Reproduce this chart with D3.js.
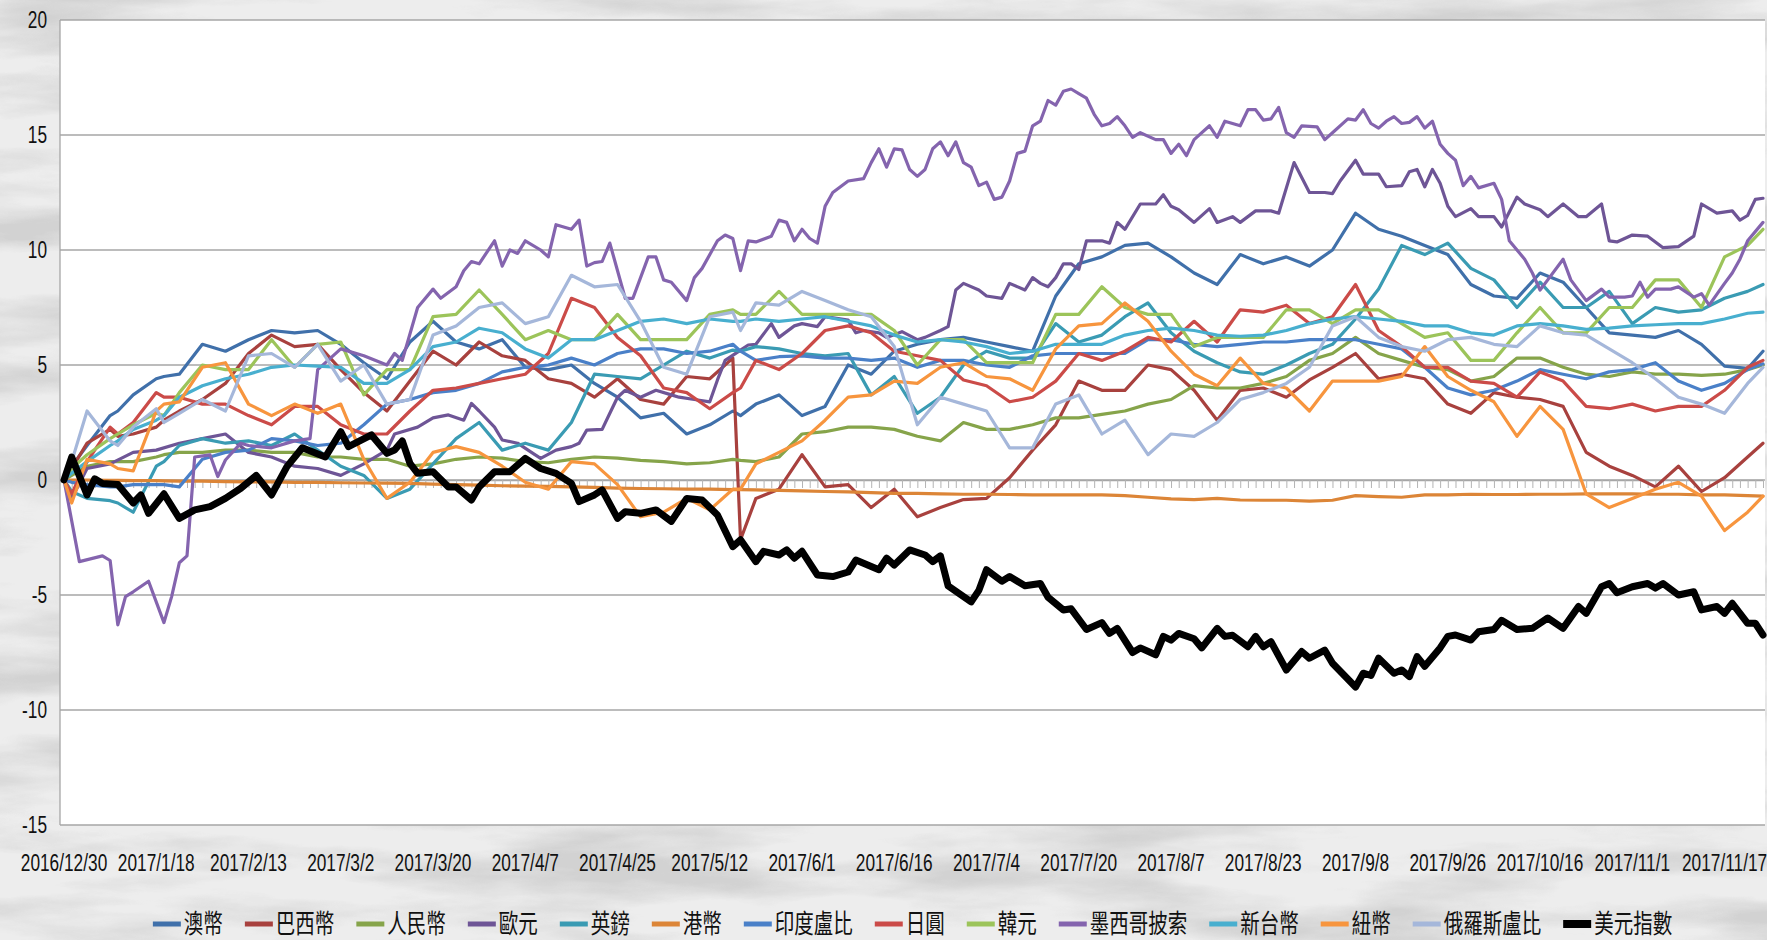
<!DOCTYPE html>
<html>
<head>
<meta charset="utf-8">
<script src="https://cdn.jsdelivr.net/npm/d3@7"></script>
<style>
  html, body { margin: 0; padding: 0; background: #eeeeee; }
  svg { display: block; }
</style>
</head>
<body>
<svg id="chart" width="1767" height="940"></svg>
<script>
// trading-day index (0 = 2016/12/30, 221 = last day) of each value
const sampleIdx = [0, 1, 3, 6, 7, 9, 12, 13].concat(d3.range(15, 88, 3), [88], d3.range(90, 220, 3), [221]);
const dayCount = 222;

const tickLabels = ["2016/12/30","2017/1/18","2017/2/13","2017/3/2","2017/3/20","2017/4/7","2017/4/25",
  "2017/5/12","2017/6/1","2017/6/16","2017/7/4","2017/7/20","2017/8/7","2017/8/23","2017/9/8",
  "2017/9/26","2017/10/16","2017/11/1","2017/11/17"];
const labelEvery = 12;
const yTicks = [-15, -10, -5, 0, 5, 10, 15, 20];

const seriesNames = ["澳幣","巴西幣","人民幣","歐元","英鎊","港幣","印度盧比","日圓","韓元","墨西哥披索","新台幣","紐幣","俄羅斯盧比","美元指數"];

const aud = [
  0, 0.6, 1.5, 2.8, 3.0, 3.7, 4.4, 4.5, 4.6,
  5.9, 5.6, 6.1, 6.5, 6.4, 6.5, 5.9, 5.1, 4.4,
  6.0, 6.9, 6.0, 5.7, 6.1, 4.9, 4.8, 5.0, 4.2, 3.6, 2.7, 2.9, 2.0, 2.4, 3.0,
  2.8,
  3.3, 3.7, 2.8, 3.2, 5.0, 4.6, 5.6, 5.9, 6.1, 6.2, 6.0, 5.8, 5.6, 8.0, 9.4,
  9.7, 10.2, 10.3, 9.7, 9.0, 8.5, 9.8, 9.4, 9.7, 9.3, 10.0, 11.6, 10.9, 10.6, 10.2,
  9.8, 8.5, 8.0, 7.9, 9.0, 8.6, 7.5, 6.4, 6.3, 6.2, 6.5, 5.9, 4.95, 4.85, 5.6];
const brl = [
  0, 0.5, 1.6, 2.2, 1.9, 2.0, 2.3, 2.6, 3.0,
  3.5, 4.2, 5.5, 6.3, 5.8, 5.9, 4.8, 3.8, 3.0,
  4.3, 5.6, 5.0, 6.0, 5.4, 5.2, 4.4, 4.2, 3.6, 4.4, 3.5, 3.3, 4.5, 4.4, 5.3,
  -2.6,
  -0.8, -0.4, 1.1, -0.3, -0.2, -1.2, -0.4, -1.6, -1.2, -0.85, -0.8, 0.1, 1.3, 2.4, 4.3,
  3.9, 3.9, 5.0, 4.8, 3.9, 2.6, 3.9, 4.0, 3.6, 4.35, 4.9, 5.5, 4.4, 4.6, 4.4,
  3.3, 2.9, 3.8, 3.6, 3.5, 3.2, 1.2, 0.6, 0.2, -0.3, 0.6, -0.5, 0.1, 1.0, 1.6];
const cny = [
  0, 0.2, 0.6, 0.8, 0.8, 0.8, 1.0, 1.1, 1.2,
  1.2, 1.3, 1.3, 1.2, 1.2, 1.0, 1.0, 0.9, 0.9,
  0.6, 0.7, 0.9, 1.0, 0.95, 0.8, 0.75, 0.9, 1.0, 0.95, 0.85, 0.8, 0.7, 0.75, 0.9,
  0.85,
  0.8, 1.0, 2.0, 2.1, 2.3, 2.3, 2.2, 1.9, 1.7, 2.5, 2.2, 2.2, 2.4, 2.7, 2.7,
  2.85, 3.0, 3.3, 3.5, 4.1, 4.0, 4.0, 4.2, 4.5, 5.2, 5.5, 6.2, 5.5, 5.2, 4.9,
  4.8, 4.3, 4.5, 5.3, 5.3, 4.9, 4.6, 4.5, 4.7, 4.6, 4.6, 4.55, 4.6, 4.8, 5.0];
const eurDays = [
  0, 1, 3, 6, 9, 12, 15, 18, 21, 24,
  27, 30, 33, 36, 39, 42, 43, 46, 48, 50,
  52, 53, 54, 56, 57, 59, 61, 62, 64, 66,
  67, 68, 70, 71, 72, 73, 75, 77, 79, 80,
  82, 84, 85, 86, 88, 89, 90, 92, 93, 95,
  96, 98, 99, 102, 103, 104, 106, 107, 109, 111,
  112, 114, 115, 116, 117, 119, 120, 122, 123, 125,
  126, 127, 128, 129, 130, 131, 132, 133, 135, 136,
  137, 138, 140, 142, 143, 144, 145, 147, 149, 150,
  152, 153, 155, 157, 158, 160, 162, 164, 165, 166,
  168, 169, 171, 172, 174, 175, 176, 177, 178, 179,
  180, 181, 183, 184, 186, 187, 189, 190, 192, 193,
  195, 197, 198, 200, 201, 202, 204, 206, 208, 210,
  212, 213, 215, 217, 218, 219, 220, 221];
const eur = [
  0, -0.8, 0.5, 0.7, 1.2, 1.3, 1.6, 1.8, 2.0, 1.2,
  1.0, 0.6, 0.5, 0.2, 0.7, 1.3, 2.0, 2.3, 2.7, 2.83,
  2.6, 3.33, 3.0, 2.3, 1.74, 1.6, 1.16, 0.94, 1.3, 1.45,
  1.6, 2.17, 2.2, 2.9, 3.6, 3.9, 3.6, 3.9, 3.7, 3.6,
  3.5, 3.4, 4.35, 5.2, 5.65, 5.87, 5.9, 6.8, 6.2, 6.7,
  6.8, 6.67, 7.1, 6.95, 6.4, 6.5, 6.4, 6.2, 6.45, 6.1,
  6.2, 6.5, 6.67, 8.26, 8.55, 8.26, 8.0, 7.9, 8.55, 8.26,
  8.8, 8.55, 8.4, 8.8, 9.4, 9.4, 9.15, 10.4, 10.4, 10.3,
  11.2, 10.9, 12.0, 12.0, 12.4, 11.9, 11.75, 11.2, 11.8, 11.2,
  11.45, 11.2, 11.7, 11.7, 11.6, 13.8, 12.5, 12.5, 12.45, 13.0,
  13.9, 13.3, 13.3, 12.75, 12.8, 13.4, 13.5, 12.75, 13.5, 12.9,
  11.9, 11.45, 11.8, 11.45, 11.45, 11.0, 12.3, 12.0, 11.75, 11.45,
  12.0, 11.45, 11.45, 12.0, 10.4, 10.35, 10.65, 10.6, 10.1, 10.15,
  10.6, 12.0, 11.6, 11.7, 11.3, 11.5, 12.2, 12.25];
const gbp = [
  0, -0.5, -0.8, -0.9, -1.0, -1.4, 0.6, 0.8, 1.5,
  1.8, 1.6, 1.7, 1.5, 2.0, 1.3, 0.6, 0.2, -0.8,
  -0.4, 0.7, 1.8, 2.5, 1.3, 1.6, 1.3, 2.5, 4.6, 4.5, 4.4, 5.0, 5.6, 5.3, 5.65,
  5.6,
  5.8, 5.7, 5.5, 5.4, 5.5, 3.7, 4.5, 2.9, 3.6, 5.0, 5.6, 5.3, 5.3, 6.8, 6.0,
  6.3, 7.1, 7.7, 6.4, 5.6, 5.1, 4.7, 4.6, 5.0, 5.5, 5.9, 7.0, 8.3, 10.2, 9.8,
  10.3, 9.2, 8.7, 7.5, 8.6, 7.5, 7.5, 8.2, 6.8, 7.5, 7.3, 7.4, 7.9, 8.2, 8.5];
const hkd = [
  0, 0, 0, -0.02, -0.02, -0.03, -0.03, -0.04, -0.05,
  -0.05, -0.07, -0.08, -0.08, -0.1, -0.1, -0.12, -0.13, -0.14,
  -0.15, -0.18, -0.2, -0.22, -0.25, -0.27, -0.28, -0.3, -0.32, -0.35, -0.37, -0.38, -0.4, -0.4, -0.42,
  -0.42,
  -0.43, -0.45, -0.47, -0.5, -0.52, -0.55, -0.58, -0.58, -0.6, -0.62, -0.62, -0.63, -0.65, -0.65, -0.65,
  -0.65, -0.68, -0.75, -0.82, -0.85, -0.8, -0.87, -0.88, -0.88, -0.92, -0.88, -0.68, -0.72, -0.75, -0.65,
  -0.65, -0.62, -0.63, -0.63, -0.62, -0.62, -0.6, -0.6, -0.6, -0.62, -0.62, -0.65, -0.65, -0.68, -0.7];
const inr = [
  0, -0.1, -0.2, -0.3, -0.3, -0.2, -0.2, -0.2, -0.3,
  0.9, 1.2, 1.3, 1.8, 1.7, 1.5, 1.6, 2.4, 3.3,
  3.5, 3.8, 3.9, 4.2, 4.7, 4.9, 5.0, 5.3, 5.0, 5.5, 5.7, 5.7, 5.5, 5.6, 5.9,
  5.6,
  5.2, 5.36, 5.4, 5.3, 5.3, 5.2, 5.3, 4.9, 5.2, 5.2, 5.0, 4.9, 5.4, 5.5, 5.5,
  5.5, 5.5, 6.1, 6.1, 5.9, 5.8, 5.9, 6.0, 6.0, 6.1, 6.1, 6.1, 5.9, 5.7, 4.9,
  4.0, 3.7, 3.9, 4.3, 4.8, 4.6, 4.4, 4.7, 4.8, 5.1, 4.3, 3.9, 4.2, 4.8, 5.05];
const jpy = [
  0, -0.6, 0.8, 2.3, 2.0, 2.5, 3.8, 3.6, 3.6,
  3.3, 3.3, 2.8, 2.4, 3.2, 3.2, 2.4, 2.0, 2.0,
  3.0, 3.9, 4.0, 4.2, 4.4, 4.6, 5.5, 7.9, 7.5, 6.2, 5.4, 4.0, 3.8, 3.1, 3.8,
  4.0,
  5.2, 4.8, 5.5, 6.5, 6.7, 6.4, 5.6, 5.4, 5.2, 4.35, 4.1, 3.4, 3.6, 4.3, 5.5,
  5.2, 5.6, 6.2, 6.0, 6.9, 6.0, 7.4, 7.3, 7.6, 6.8, 7.1, 8.5, 6.5, 5.8, 4.9,
  4.9, 4.3, 4.2, 3.6, 4.7, 4.3, 3.2, 3.1, 3.3, 3.0, 3.2, 3.2, 3.9, 4.9, 5.2];
const krw = [
  0, 0.5, 1.1, 1.8, 2.0, 2.4, 2.9, 2.8, 3.8,
  5.0, 4.8, 4.8, 6.1, 4.9, 5.9, 6.0, 3.7, 4.8,
  4.8, 7.1, 7.2, 8.26, 7.2, 6.1, 6.5, 6.1, 6.1, 7.2, 6.1, 6.1, 6.1, 7.2, 7.4,
  7.2,
  7.2, 8.2, 7.2, 7.2, 7.2, 7.2, 6.5, 5.0, 6.1, 6.1, 5.1, 5.1, 5.1, 7.2, 7.2,
  8.4, 7.5, 7.2, 7.2, 5.8, 6.2, 6.2, 6.2, 7.4, 7.4, 6.8, 7.4, 7.4, 6.8, 6.2,
  6.4, 5.2, 5.2, 6.4, 7.5, 6.4, 6.4, 7.5, 7.5, 8.7, 8.7, 7.5, 9.7, 10.2, 10.9];
const mxnDays = [
  0, 2, 5, 6, 7, 8, 9, 11, 13, 14,
  15, 16, 17, 19, 20, 21, 23, 24, 27, 30,
  32, 33, 36, 39, 42, 43, 44, 46, 48, 49,
  51, 52, 53, 54, 56, 57, 58, 59, 60, 62,
  63, 64, 66, 67, 68, 69, 70, 71, 73, 74,
  76, 77, 78, 79, 81, 82, 83, 85, 86, 87,
  88, 89, 90, 92, 93, 94, 95, 96, 97, 98,
  99, 100, 102, 104, 105, 106, 107, 108, 109, 110,
  111, 112, 113, 114, 115, 116, 117, 118, 119, 120,
  121, 122, 123, 124, 125, 126, 127, 128, 129, 130,
  131, 132, 133, 134, 135, 136, 137, 138, 139, 140,
  142, 143, 144, 145, 146, 147, 149, 150, 151, 152,
  153, 154, 155, 156, 157, 158, 159, 160, 161, 163,
  164, 165, 167, 168, 169, 170, 171, 172, 173, 174,
  175, 176, 177, 178, 179, 180, 181, 182, 183, 184,
  186, 187, 188, 190, 191, 192, 193, 195, 196, 198,
  200, 201, 203, 204, 205, 206, 207, 209, 210, 212,
  213, 214, 216, 217, 218, 219, 221];
const mxn = [
  0, -3.55, -3.3, -3.5, -6.3, -5.07, -4.86, -4.4, -6.2, -5.07,
  -3.6, -3.3, 1.0, 1.09, 0.15, 0.87, 1.6, 1.5, 1.4, 1.7,
  1.8, 4.8, 5.7, 5.4, 5.0, 5.5, 5.2, 7.5, 8.3, 7.9,
  8.4, 9.1, 9.5, 9.4, 10.4, 9.3, 10.0, 9.85, 10.4, 10.0,
  9.7, 11.1, 10.9, 11.3, 9.3, 9.45, 9.5, 10.3, 7.9, 7.9,
  9.7, 9.7, 8.7, 8.6, 7.8, 8.8, 9.2, 10.4, 10.65, 10.5,
  9.1, 10.4, 10.35, 10.6, 11.3, 11.2, 10.4, 10.9, 10.5, 10.3,
  11.9, 12.5, 13.0, 13.1, 13.8, 14.4, 13.6, 14.4, 14.35, 13.5,
  13.2, 13.5, 14.4, 14.7, 14.1, 14.7, 13.8, 13.6, 12.8, 12.95,
  12.2, 12.3, 13.0, 14.2, 14.3, 15.4, 15.6, 16.5, 16.3, 16.9,
  17.0, 16.8, 16.6, 15.9, 15.4, 15.5, 15.8, 15.4, 14.9, 15.1,
  14.8, 14.8, 14.2, 14.6, 14.1, 14.8, 15.4, 14.9, 15.6, 15.5,
  15.4, 16.1, 16.1, 15.65, 15.7, 16.2, 15.1, 14.9, 15.4, 15.35,
  14.8, 15.1, 15.7, 15.65, 16.1, 15.5, 15.3, 15.6, 15.8, 15.5,
  15.55, 15.8, 15.3, 15.6, 14.6, 14.2, 13.9, 12.8, 13.2, 12.7,
  12.9, 12.2, 10.4, 9.6, 9.0, 8.26, 8.7, 9.6, 8.7, 7.8,
  8.3, 7.95, 7.95, 8.0, 8.6, 7.95, 8.3, 8.3, 8.4, 7.95,
  8.1, 7.6, 8.55, 9.0, 9.6, 10.4, 11.2];
const twd = [
  0, 0.3, 0.8, 1.5, 1.7, 2.2, 2.6, 2.8, 3.6,
  4.1, 4.4, 4.6, 4.9, 5.0, 4.95, 4.9, 4.2, 4.2,
  4.8, 5.8, 6.0, 6.6, 6.4, 5.7, 5.3, 6.1, 6.1, 6.5, 6.9, 7.0, 6.8, 7.0, 6.9,
  6.9,
  7.0, 6.9, 7.0, 7.1, 6.9, 6.7, 6.3, 6.0, 6.1, 6.0, 5.8, 5.5, 5.6, 5.9, 5.9,
  5.9, 6.3, 6.5, 6.6, 6.5, 6.3, 6.25, 6.3, 6.5, 6.8, 7.0, 7.1, 7.0, 6.9, 6.7,
  6.7, 6.4, 6.3, 6.7, 6.8, 6.7, 6.55, 6.6, 6.7, 6.75, 6.8, 6.8, 7.0, 7.25, 7.3];
const nzd = [
  0, -1.0, 0.9, 0.7, 0.5, 0.4, 3.0, 3.3, 3.4,
  4.9, 5.1, 3.3, 2.8, 3.3, 2.9, 3.3, 0.9, -0.8,
  -0.1, 1.2, 1.45, 1.2, 0.6, -0.1, -0.4, 0.8, 0.7, -0.2, -1.6, -1.4, -0.8, -1.3, -0.4,
  -0.4,
  0.7, 1.2, 1.7, 2.6, 3.6, 3.7, 4.3, 4.2, 4.9, 5.1, 4.5, 4.4, 3.9, 5.7, 6.7,
  6.8, 7.7, 6.9, 5.6, 4.6, 4.1, 5.3, 4.2, 4.0, 3.0, 4.3, 4.3, 4.3, 4.5, 5.8,
  4.5, 3.9, 3.4, 1.9, 3.2, 2.2, -0.6, -1.2, -0.8, -0.4, -0.1, -0.7, -2.2, -1.4, -0.7];
const rub = [
  0, 0.8, 3.0, 1.7, 1.5, 2.3, 3.1, 2.5, 2.9,
  3.5, 3.0, 5.4, 5.5, 4.9, 5.9, 4.3, 5.0, 3.3,
  3.5, 6.3, 6.7, 7.5, 7.7, 6.8, 7.1, 8.9, 8.4, 8.5, 6.9, 4.9, 4.6, 7.1, 7.3,
  6.5,
  7.7, 7.6, 8.2, 7.8, 7.4, 7.1, 5.8, 2.4, 3.6, 3.3, 3.0, 1.4, 1.4, 3.3, 3.7,
  2.0, 2.6, 1.1, 2.0, 1.9, 2.5, 3.5, 3.8, 4.2, 4.9, 6.7, 7.1, 6.2, 5.8, 5.6,
  6.1, 6.2, 5.9, 5.8, 6.7, 6.4, 6.3, 5.7, 5.1, 4.4, 3.6, 3.3, 2.9, 4.2, 4.9];
const usdDays = [
  0, 1, 3, 4, 5, 7, 8, 9, 10, 11,
  13, 15, 17, 19, 21, 23, 25, 27, 29, 31,
  34, 36, 37, 40, 42, 43, 44, 45, 46, 48,
  50, 51, 53, 54, 56, 58, 60, 62, 64, 66,
  67, 69, 70, 72, 73, 75, 77, 79, 81, 83,
  85, 87, 88, 90, 91, 93, 94, 95, 96, 98,
  100, 102, 103, 106, 107, 108, 110, 112, 113, 114,
  115, 118, 119, 120, 122, 123, 125, 127, 128, 130,
  131, 133, 135, 136, 137, 139, 140, 142, 143, 144,
  145, 147, 148, 150, 151, 152, 154, 155, 156, 157,
  159, 161, 162, 164, 165, 168, 169, 170, 171, 173,
  174, 175, 176, 177, 179, 180, 181, 183, 184, 186,
  187, 189, 191, 193, 195, 197, 198, 200, 201, 202,
  204, 206, 207, 208, 210, 212, 213, 215, 216, 217,
  219, 220, 221];
const usdIndex = [
  0, 1.0, -0.65, 0.05, -0.15, -0.2, -0.6, -1.0, -0.65, -1.45,
  -0.6, -1.67, -1.3, -1.16, -0.8, -0.36, 0.2, -0.65, 0.58, 1.4,
  1.0, 2.1, 1.45, 1.96, 1.16, 1.3, 1.7, 0.72, 0.29, 0.36,
  -0.3, -0.3, -0.87, -0.3, 0.36, 0.36, 0.94, 0.5, 0.29, -0.15,
  -0.94, -0.65, -0.43, -1.67, -1.38, -1.45, -1.3, -1.8, -0.8, -0.87,
  -1.52, -2.9, -2.6, -3.55, -3.1, -3.26, -3.04, -3.4, -3.1, -4.13,
  -4.2, -4.0, -3.48, -3.9, -3.4, -3.7, -3.04, -3.26, -3.55, -3.3,
  -4.6, -5.3, -4.8, -3.9, -4.4, -4.2, -4.6, -4.5, -5.1, -5.65,
  -5.6, -6.5, -6.2, -6.67, -6.45, -7.5, -7.3, -7.6, -6.8, -6.96,
  -6.67, -6.9, -7.3, -6.45, -6.8, -6.75, -7.25, -6.8, -7.25, -7.03,
  -8.26, -7.46, -7.75, -7.4, -7.97, -9.0, -8.4, -8.5, -7.75, -8.4,
  -8.26, -8.55, -7.68, -8.1, -7.3, -6.8, -6.74, -6.96, -6.6, -6.5,
  -6.1, -6.5, -6.45, -6.0, -6.45, -5.5, -5.8, -4.64, -4.5, -4.9,
  -4.64, -4.5, -4.7, -4.5, -5.0, -4.86, -5.65, -5.5, -5.8, -5.36,
  -6.23, -6.23, -6.74];

const seriesValues = [aud, brl, cny, eur, gbp, hkd, inr, jpy, krw, mxn, twd, nzd, rub, usdIndex];
const seriesDays = [sampleIdx, sampleIdx, sampleIdx, eurDays, sampleIdx, sampleIdx, sampleIdx,
  sampleIdx, sampleIdx, mxnDays, sampleIdx, sampleIdx, sampleIdx, usdDays];
const seriesColors = ["#4070aa","#a8413e","#86a44a","#6e5596","#3a9bb3","#dc8537","#4a80c8",
  "#cb4b48","#9cc45a","#8464ae","#48afcf","#f7953e","#a5b7da","#000000"];

const series = seriesNames.map((name, i) => ({ name, days: seriesDays[i], values: seriesValues[i], color: seriesColors[i] }));
series.forEach(s => { if (s.days.length !== s.values.length) console.log("length mismatch", s.name, s.days.length, s.values.length); });

const width = 1767, height = 940;
const plot = { left: 60, right: 1765, top: 20, bottom: 825 };
const numFont = "'Liberation Sans', Arial, sans-serif";
const cjkFont = "'Noto Sans CJK TC', 'Noto Sans CJK SC', sans-serif";
const numSqueeze = 0.72;
const cjkSqueeze = 0.75;

const svg = d3.select("#chart");

// marble-ish backdrop
const defs = svg.append("defs");
const f = defs.append("filter").attr("id", "marble").attr("x", 0).attr("y", 0).attr("width", 1).attr("height", 1);
f.append("feTurbulence").attr("type", "fractalNoise").attr("baseFrequency", "0.004 0.02").attr("numOctaves", 5).attr("seed", 11);
f.append("feColorMatrix").attr("type", "matrix")
  .attr("values", "0 0 0 0 0.5  0 0 0 0 0.5  0 0 0 0 0.5  2.8 0 0 0 -1.2");
svg.append("rect").attr("width", width).attr("height", height).attr("fill", "#ededed");
svg.append("rect").attr("width", width).attr("height", height).attr("filter", "url(#marble)").attr("opacity", 0.55);

svg.append("rect")
  .attr("x", plot.left).attr("y", plot.top)
  .attr("width", plot.right - plot.left).attr("height", plot.bottom - plot.top)
  .attr("fill", "#ffffff");

const x = d3.scaleLinear().domain([0, dayCount - 1]).range([64, 1763]);
const y = d3.scaleLinear().domain([-15, 20]).range([plot.bottom, plot.top]);

// gridlines
svg.append("g").selectAll("line").data(yTicks).join("line")
  .attr("x1", plot.left).attr("x2", plot.right)
  .attr("y1", d => y(d)).attr("y2", d => y(d))
  .attr("stroke", "#a6a6a6").attr("stroke-width", 1.3);

// y axis line + labels
svg.append("line").attr("x1", plot.left).attr("x2", plot.left)
  .attr("y1", plot.top).attr("y2", plot.bottom).attr("stroke", "#a6a6a6").attr("stroke-width", 1.3);
svg.append("g").selectAll("text").data(yTicks).join("text")
  .attr("transform", d => `translate(47,${y(d)}) scale(${numSqueeze},1)`)
  .attr("text-anchor", "end").attr("dy", "0.35em")
  .attr("font-family", numFont).attr("font-size", 24).attr("fill", "#111")
  .text(d => d);

// category axis on the zero line, a tick per trading day
const catAxis = svg.append("g").attr("transform", `translate(0,${y(0)})`)
  .call(d3.axisBottom(x).tickValues(d3.range(0, dayCount)).tickSize(8).tickSizeOuter(0).tickFormat(""));
catAxis.select(".domain").attr("stroke", "#a6a6a6").attr("stroke-width", 1.3);
catAxis.selectAll(".tick line").attr("stroke", "#b4b4b4").attr("stroke-width", 1);

// date labels along the bottom
svg.append("g").selectAll("text").data(tickLabels).join("text")
  .attr("transform", (d, i) => `translate(${x(i * labelEvery)},863) scale(${numSqueeze},1)`)
  .attr("text-anchor", "middle").attr("dy", "0.35em")
  .attr("font-family", numFont).attr("font-size", 24).attr("fill", "#111")
  .text(d => d);

// series lines, US dollar index drawn last and heavier
const lastIdx = series.length - 1;
svg.append("g").selectAll("path").data(series).join("path")
  .attr("fill", "none")
  .attr("stroke", d => d.color)
  .attr("stroke-width", (d, i) => i === lastIdx ? 7 : 3.2)
  .attr("stroke-linejoin", "round").attr("stroke-linecap", "round")
  .attr("d", s => d3.line().x((v, i) => x(s.days[i])).y(v => y(v))(s.values));

// legend
const legend = svg.append("g");
const items = legend.selectAll("g").data(series).join("g");
items.append("line").attr("x1", 0).attr("x2", 28).attr("y1", 0).attr("y2", 0)
  .attr("stroke", d => d.color)
  .attr("stroke-width", (d, i) => i === lastIdx ? 8 : 5);
items.append("text")
  .attr("transform", `translate(31,0) scale(${cjkSqueeze},1)`)
  .attr("dy", "0.36em")
  .attr("font-family", cjkFont).attr("font-size", 26).attr("fill", "#111")
  .text(d => d.name);
let cursor = 0;
const offsets = [];
items.each(function () {
  const w = 31 + this.querySelector("text").getComputedTextLength() * cjkSqueeze;
  offsets.push(cursor);
  cursor += w + 22;
});
const legendWidth = cursor - 22;
const legendStart = (plot.left + plot.right) / 2 - legendWidth / 2;
items.attr("transform", (d, i) => `translate(${legendStart + offsets[i]},924)`);
</script>
</body>
</html>
